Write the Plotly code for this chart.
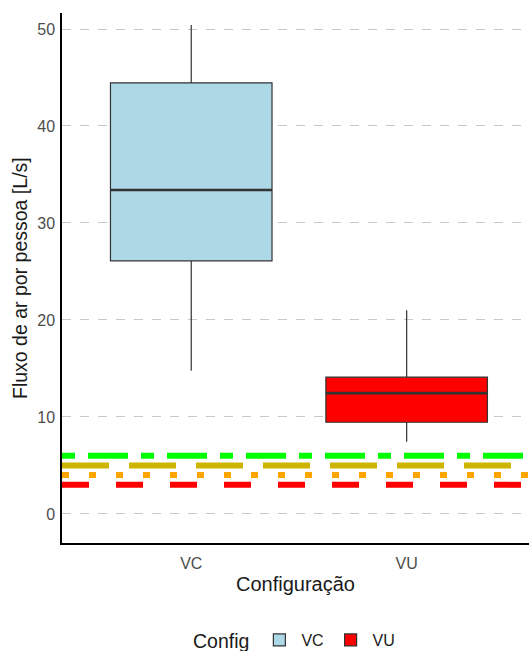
import plotly.graph_objects as go

categories = ["VC", "VU"]
q1 = [26.1, 9.45]
median = [33.4, 12.45]
q3 = [44.45, 14.1]
lower_whisker = [14.75, 7.45]
upper_whisker = [50.4, 21.0]
fill_colors = ["#ADD8E6", "#FF0000"]

ref_values = [6, 5, 4, 3]
ref_colors = ["#00FF00", "#CDB400", "#FFA500", "#FF0000"]
ref_dashes = ["13px,13px,40px,13px", "47px,20px", "7px,20px", "27px,27px"]

y_ticks = [0, 10, 20, 30, 40, 50]

FONT = "Liberation Sans, Arial, sans-serif"
box_w = 0.75

fig = go.Figure()
for i, cat in enumerate(categories):
    fig.add_trace(go.Box(
        x=[i], q1=[q1[i]], median=[median[i]], q3=[q3[i]],
        lowerfence=[lower_whisker[i]], upperfence=[upper_whisker[i]],
        name=cat, fillcolor=fill_colors[i],
        line=dict(color="#333333", width=1.2),
        whiskerwidth=0, width=box_w, boxpoints=False,
        hoverinfo="skip",
    ))
for i, cat in enumerate(categories):
    fig.add_trace(go.Scatter(
        x=[i - box_w / 2, i + box_w / 2], y=[median[i], median[i]],
        mode="lines", line=dict(color="#333333", width=2.6),
        showlegend=False, hoverinfo="skip",
    ))

for v, c, d in zip(ref_values, ref_colors, ref_dashes):
    fig.add_shape(type="line", xref="paper", x0=0, x1=1, yref="y", y0=v, y1=v,
                  line=dict(color=c, width=6, dash=d), layer="above")

# axis titles as annotations for exact placement
fig.add_annotation(text="Configuração", xref="paper", yref="paper", x=0.5, y=0,
                   yshift=-41, xanchor="center", yanchor="middle", showarrow=False,
                   font=dict(size=20, color="#1A1A1A"))
fig.add_annotation(text="Fluxo de ar por pessoa [L/s]", xref="paper", yref="paper",
                   x=0, y=0.5, xshift=-42, xanchor="center", yanchor="middle",
                   textangle=-90, showarrow=False,
                   font=dict(size=19.5, color="#1A1A1A"))

fig.update_layout(
    width=529, height=651,
    margin=dict(l=62, r=0, t=13, b=107.5, autoexpand=False),
    paper_bgcolor="white", plot_bgcolor="white",
    font=dict(family=FONT, size=16, color="#4D4D4D"),
    boxmode="overlay",
    showlegend=True,
    legend=dict(
        orientation="h", x=0.5, xanchor="center", y=-0.185, yanchor="middle",
        title=dict(text="Config", font=dict(size=19.5, color="#1A1A1A")),
        font=dict(size=16, color="#1A1A1A"),
        itemwidth=34,
    ),
    xaxis=dict(
        range=[-0.6, 1.568], tickvals=[0, 1], ticktext=categories,
        showgrid=False, zeroline=False, automargin=False,
        showline=True, linecolor="black", linewidth=1.5,
        ticks="outside", ticklen=5, tickcolor="rgba(0,0,0,0)", ticklabelstandoff=0,
        tickfont=dict(size=16, color="#4D4D4D"),
    ),
    yaxis=dict(
        range=[-3.0, 51.65], tickvals=y_ticks,
        showgrid=True, gridcolor="#C8C8C8", griddash="dash", gridwidth=1,
        zeroline=False, automargin=False,
        showline=True, linecolor="black", linewidth=1.5,
        ticks="outside", ticklen=2, tickcolor="rgba(0,0,0,0)", ticklabelstandoff=0,
        tickfont=dict(size=16, color="#4D4D4D"),
    ),
)

fig.write_html(
    "out.html",
    config={"displayModeBar": False},
    post_script="document.body.style.margin='0';document.body.style.overflow='hidden';",
)
